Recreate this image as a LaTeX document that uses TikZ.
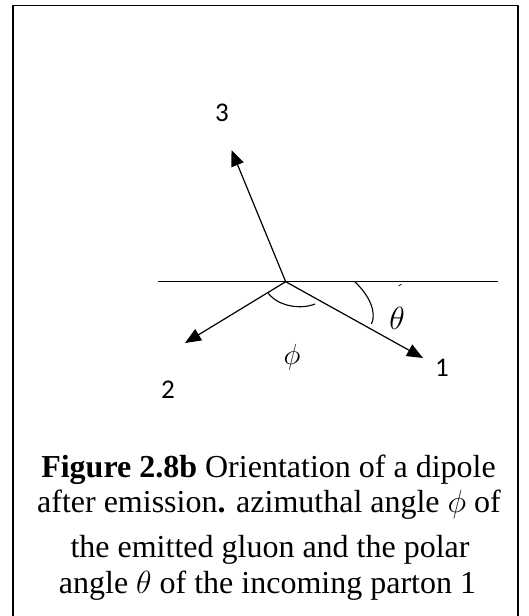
\documentclass[tikz,border=0pt]{standalone}
\usepackage{fix-cm}
\usepackage{fontspec}
\setmainfont{Liberation Serif}
\newfontfamily\digitfont{Carlito}
\usepackage{tikz}
\usetikzlibrary{arrows.meta}
\tikzset{
  every picture/.style={line join=round, >={Triangle[length=16pt,width=13pt]}},
  vec/.style={line width=1.2pt,->},
  axis/.style={line width=1.3pt},
  arcline/.style={line width=1.1pt},
  partlabel/.style={font=\digitfont\fontsize{27}{30}\selectfont},
  thetalabel/.style={font=\fontsize{32}{34}\selectfont},
  philabel/.style={font=\fontsize{29}{32}\selectfont},
  capline/.style={anchor=base,font=\fontsize{32}{36}\selectfont},
}

\begin{document}
\begin{tikzpicture}[x=1pt,y=-1pt]
\useasboundingbox (0,0) rectangle (529,616);
\draw[line width=1.6pt] (13,620)--(13,5.5)--(518,5.5)--(518,620);
\coordinate (O) at (285.7,281.7);
\coordinate (left) at (158,281.7);
\coordinate (right) at (498,281.7);
\coordinate (p1) at (423,358);
\coordinate (p2) at (185,343);
\coordinate (p3) at (231.5,150);
\draw[axis] (left)--(right);
\draw[vec] (O)--(p3);
\draw[vec] (O)--(p2);
\draw[vec] (O)--(p1);
\draw[arcline] (268.3,293.3) .. controls (278,306) and (300,310) .. (315,304);
\draw[arcline] (355,282) .. controls (369,295) and (377,312) .. (371.5,324);
\draw[line width=0.7pt] (398.5,286) -- (401.5,284);
\node[partlabel] (n3) at (222,113) {3};
\node[partlabel] (n2) at (168,390) {2};
\node[partlabel] (n1) at (442,368) {1};
\node[thetalabel] (theta) at (397,318) {$\theta$};
\node[philabel] (phi) at (292,357) {$\phi$};
\node[capline] (c1) at (268.5,477) {\textbf{Figure 2.8b} Orientation of a dipole};
\node[capline] (c2) at (269,512) {after emission\textbf{.} azimuthal angle $\phi$ of};
\node[capline] (c3) at (270,557) {the emitted gluon and the polar};
\node[capline] (c4) at (267.5,593) {angle $\theta$ of the incoming parton 1};
\end{tikzpicture}
\end{document}
